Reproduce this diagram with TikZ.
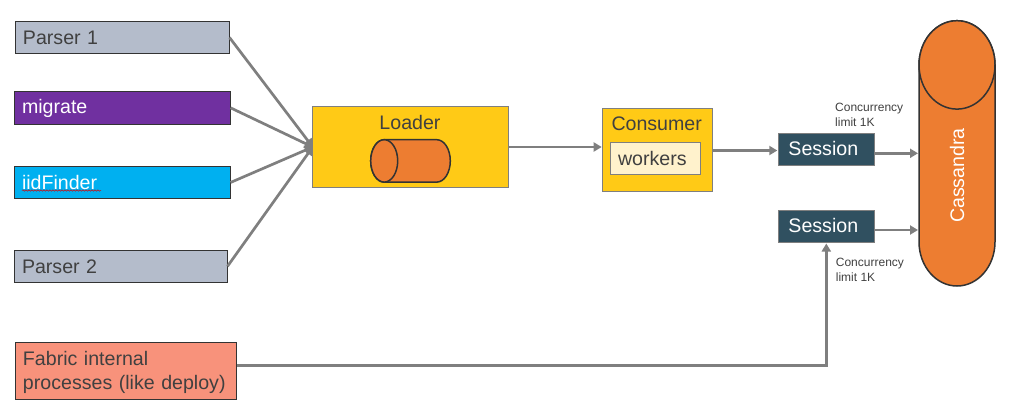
\documentclass[tikz,border=0pt]{standalone}
\usepackage{fontspec}
\setmainfont{Liberation Sans}
\usetikzlibrary{arrows.meta,decorations.pathmorphing}
\definecolor{txt}{HTML}{404040}
\definecolor{edge}{HTML}{333333}
\definecolor{conn}{HTML}{7F7F7F}
\definecolor{parsergray}{HTML}{B4BCCB}
\definecolor{migratepurple}{HTML}{7030A0}
\definecolor{finderblue}{HTML}{00B0F0}
\definecolor{fabricsalmon}{HTML}{F8927B}
\definecolor{loaderyellow}{HTML}{FFCA16}
\definecolor{workercream}{HTML}{FFF2CC}
\definecolor{sessionteal}{HTML}{305060}
\definecolor{cassorange}{HTML}{ED7D31}
\tikzset{
  x=1pt,y=-1pt,
  lbl/.style={font=\fontsize{19.6}{25}\selectfont,text=txt,inner sep=0pt,outer sep=0pt},
  small/.style={font=\fontsize{12}{15}\selectfont,text=txt,inner sep=0pt,align=left,anchor=west},
  srcbox/.style={draw=edge,line width=1.1pt,anchor=north west,outer sep=0pt,inner ysep=0pt,inner xsep=7.5pt,
    align=left,font=\fontsize{19.6}{24.3}\selectfont,text=txt},
  graybox/.style={draw=conn,line width=1.1pt,anchor=north west,outer sep=0pt,inner sep=0pt},
  conn line/.style={draw=conn,line width=2.7pt},
  arrowed/.style={conn line,-{Triangle[length=8pt,width=9pt]},shorten >=1pt},
  plain fan/.style={conn line,-{Triangle[length=8pt,width=9pt]}},
  orange shape/.style={fill=cassorange,draw=edge,line width=1.5pt},
}
\begin{document}
\begin{tikzpicture}
\useasboundingbox (0,0) rectangle (1009,415);
% sources
\node[srcbox,fill=parsergray,minimum height=31.6pt,text width=199pt] (p1) at (15.5,21.7) {Parser 1};
\node[srcbox,fill=migratepurple,minimum height=33pt,text width=201pt,text=white,text depth=3pt] (mig) at (14.5,91.3) {migrate};
\node[srcbox,fill=finderblue,minimum height=31.6pt,text width=201pt,text=white] (iid) at (14.5,166.7) {iidFinder};
\node[srcbox,fill=parsergray,minimum height=32pt,text width=198pt] (p2) at (14.5,250.3) {Parser 2};
\node[srcbox,fill=fabricsalmon,minimum height=56.6pt,text width=206pt] (fab) at (15.5,342.7) {\rule{0pt}{17pt}Fabric internal\\processes (like deploy)};
\coordinate (sqa) at (22,190.5);
\coordinate (sqb) at (101,190.5);
\draw[red!85!black,line width=.5pt,decorate,decoration={snake,amplitude=.7pt,segment length=3pt}] (sqa) -- (sqb);
% loader
\node[graybox,fill=loaderyellow,minimum width=195.6pt,minimum height=80.6pt] (load) at (312.7,106.7) {};
\node[lbl] (loadt) at (410,122) {Loader};
\draw[orange shape] (384.2,139.7) -- (436.8,139.7) arc[start angle=90,end angle=-90,x radius=13.5pt,y radius=21.2pt]
  -- (384.2,182.1) arc[start angle=270,end angle=90,x radius=13.5pt,y radius=21.2pt] -- cycle;
\draw[orange shape] (384.2,160.9) ellipse[x radius=13.5pt,y radius=21.2pt];
% consumer
\node[graybox,fill=loaderyellow,minimum width=109.6pt,minimum height=82.6pt] (cons) at (602.7,108.7) {};
\node[lbl] (const) at (656.7,124) {Consumer};
\node[graybox,fill=workercream,minimum width=89.6pt,minimum height=32pt] (work) at (610.7,142.3) {};
\node[lbl,anchor=west] (workt) at (618,158) {workers};
% sessions
\node[graybox,fill=sessionteal,minimum width=96pt,minimum height=32pt] (s1) at (778.3,133.3) {};
\node[lbl,text=white] (s1t) at (823.3,148.5) {Session};
\node[graybox,fill=sessionteal,minimum width=96pt,minimum height=32pt] (s2) at (778.3,210.5) {};
\node[lbl,text=white] (s2t) at (823.3,225.5) {Session};
\node[small] (c1) at (835,114.7) {Concurrency\\limit 1K};
\node[small] (c2) at (835.7,269.7) {Concurrency\\limit 1K};
% cassandra
\node[minimum width=76pt,minimum height=265.3pt,inner sep=0pt,outer sep=0pt] (cass) at (957,153.35) {};
\draw[orange shape] (919,64.9) arc[start angle=180,end angle=0,x radius=38pt,y radius=44.2pt]
  -- (995,241.8) arc[start angle=0,end angle=-180,x radius=38pt,y radius=44.2pt] -- cycle;
\draw[orange shape] (957,64.9) ellipse[x radius=38pt,y radius=44.2pt];
\node[lbl,text=white,rotate=90] (casst) at (957,175.5) {Cassandra};
% connectors
\draw[plain fan] (p1.east) -- (load.west);
\draw[plain fan] (mig.east) -- (load.west);
\draw[plain fan] (iid.east) -- (load.west);
\draw[plain fan] (p2.east) -- (load.west);
\draw[arrowed] (load.east) -- (load.east -| cons.west);
\coordinate (consout) at ([yshift=-.5pt]cons.east);
\draw[arrowed] (consout) -- (consout -| s1.west);
\coordinate (s1out) at ([yshift=-4pt]s1.east);
\draw[arrowed] (s1out) -- (s1out -| cass.west);
\coordinate (s2out) at ([yshift=-3.5pt]s2.east);
\draw[arrowed] (s2out) -- (s2out -| cass.west);
\coordinate (fabout) at ([yshift=5.3pt]fab.east);
\draw[arrowed] (fabout) -| (s2.south);
\end{tikzpicture}
\end{document}
